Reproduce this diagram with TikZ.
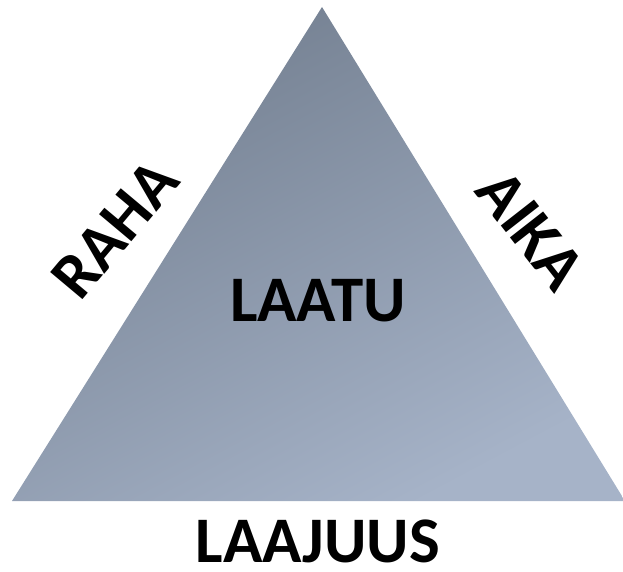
\documentclass[tikz,border=0pt]{standalone}
\usepackage{fontspec}
\setmainfont{Carlito}
\begin{document}
\begin{tikzpicture}[x=1pt, y=-1pt]
    \def\labelSize{\fontsize{65}{65}\selectfont\bfseries}

    \definecolor{topColour}{HTML}{737F90}
    \definecolor{bottomColour}{HTML}{A6B3C8}

    \tikzset{word/.style={font=\labelSize, text=black, inner sep=0pt}}

    \useasboundingbox (0,0) rectangle (623,572);

    % Triangle corners
    \coordinate (Top) at (322,7);
    \coordinate (Left) at (12,501);
    \coordinate (Right) at (625,501);
    \shade[top color=topColour, bottom color=bottomColour, shading angle=28]
        (Top) -- (Left) -- (Right) -- cycle;

    % Labels
    \node[word] (laatu) at (318,301) {LAATU};
    \node[word, anchor=base] (laajuus) at (318,562) {LAAJUUS};
    \node[word, rotate=50] (raha) at (115,229) {RAHA};
    \node[word, rotate=-52] (aika) at (531,230) {AIKA};

\end{tikzpicture}
\end{document}
